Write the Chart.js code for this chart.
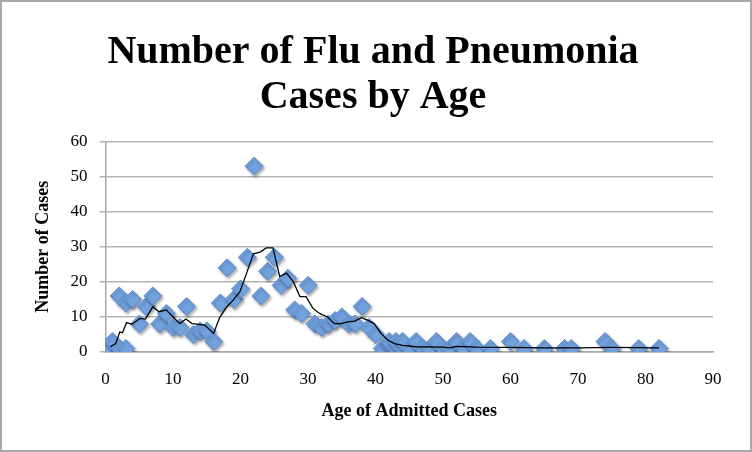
<!DOCTYPE html>
<html>
<head>
<meta charset="utf-8">
<script src="https://cdn.jsdelivr.net/npm/chart.js@4.4.1/dist/chart.umd.min.js"></script>
<style>
  html, body { margin: 0; padding: 0; background: #fff; }
  #wrap { width: 752px; height: 452px; }
</style>
</head>
<body>
<div id="wrap"><canvas id="c" width="752" height="452"></canvas></div>
<script>
// Werte: Alter und Anzahl Faelle
const ages = [0, 1, 2, 2, 3, 3, 4, 5, 6, 7, 8, 9, 10, 11, 12, 13, 14, 15, 16, 17, 18, 19, 20, 21, 22,
  23, 24, 25, 26, 27, 28, 29, 30, 31, 32, 33, 34, 35, 36, 37, 38, 39, 40,
  41, 42, 42, 43, 43, 44, 44, 45, 46, 47, 48, 49, 50, 51, 52, 53, 54, 55, 57, 60, 62, 65, 68, 69, 74, 75, 79, 82];
const cases = [1, 3, 16, 1, 14, 1, 15, 8, 13, 16, 8, 11, 7, 7, 13, 5, 6, 6, 3, 14, 24, 15, 18, 27, 53,
  16, 23, 27, 19, 21, 12, 11, 19, 8, 7, 8, 9, 10, 8, 8, 13, 7, 5,
  1, 2, 3, 1, 3, 1, 3, 1, 3, 1, 1, 3, 1, 1, 3, 1, 3, 1, 1, 3, 1, 1, 1, 1, 3, 1, 1, 1];

// gleitender Durchschnitt (Trendlinie), Stuetzpunkte aus dem Bild
const trendX = [0.7, 1.5, 2.1, 2.5, 3.1, 3.9, 5.1, 5.9, 7, 7.9, 9, 10, 11, 11.9, 12.8, 13.8, 14.7, 16,
  16.9, 17.8, 18.9, 19.9, 20.8, 21.9, 22.9, 23.8, 24.8, 25.8, 26.8, 27.8, 28.8, 29.7, 30.7, 31.7,
  32.9, 33.9, 34.9, 35.9, 36.9, 37.9, 38.8, 39.8, 40.8, 41.8, 42.8, 44, 46, 50, 51, 52, 55, 60, 65, 70, 75, 82];
const trendY = [1.5, 2.4, 5.7, 5.5, 8.4, 7.9, 9.6, 9.4, 12.9, 11.5, 12, 10, 8.1, 9.4, 8.1, 7.9, 7.7, 5.3,
  9.8, 12.5, 14.8, 17.2, 22, 28, 28.5, 29.7, 29.7, 21.5, 22.5, 20.1, 15.8, 15.8, 12.5, 11,
  10, 8.1, 8.1, 8.6, 8.8, 9.8, 9.1, 8.1, 5.3, 3.4, 2.4, 1.9, 1.5, 1.4, 1.2, 1.6, 1.4, 1.3, 1.2, 1.2, 1.3, 1.2];

const xTicks = [0, 10, 20, 30, 40, 50, 60, 70, 80, 90];
const yTicks = [0, 10, 20, 30, 40, 50, 60];

const serif = "'Liberation Serif', 'DejaVu Serif', serif";

const points = ages.map((a, i) => ({ x: a, y: cases[i] }));
const trend = trendX.map((a, i) => ({ x: a, y: trendY[i] }));

// Schatten fuer die Rauten, Rahmen um das Bild
const deco = {
  id: 'deco',
  beforeDatasetDraw(chart, args) {
    if (args.index !== 1) return;
    const ctx = chart.ctx;
    ctx.save();
    ctx.shadowColor = 'rgba(0,0,0,0.35)';
    ctx.shadowBlur = 3;
    ctx.shadowOffsetX = 1.5;
    ctx.shadowOffsetY = 2;
  },
  afterDatasetDraw(chart, args) {
    if (args.index !== 1) return;
    chart.ctx.restore();
  },
  afterDraw(chart) {
    const ctx = chart.ctx;
    ctx.save();
    ctx.strokeStyle = '#a8a8a8';
    ctx.lineWidth = 2;
    ctx.strokeRect(1, 1, chart.width - 2, chart.height - 2);
    ctx.restore();
  },
};

new Chart(document.getElementById('c'), {
  type: 'scatter',
  data: {
    datasets: [
      {
        type: 'line',
        label: 'Moving average',
        data: trend,
        borderColor: '#000',
        borderWidth: 1.3,
        pointRadius: 0,
        tension: 0,
        fill: false,
        order: 0,
      },
      {
        label: 'Cases',
        data: points,
        pointStyle: 'rectRot',
        pointRadius: 9,
        backgroundColor: '#72a2de',
        borderColor: '#5c8dd3',
        borderWidth: 1,
        order: 1,
      },
    ],
  },
  options: {
    responsive: false,
    animation: false,
    devicePixelRatio: 1,
    layout: { padding: { left: 33, right: 39, top: 30, bottom: 30 } },
    scales: {
      x: {
        type: 'linear',
        min: 0,
        max: 90,
        afterBuildTicks: (s) => { s.ticks = xTicks.map((v) => ({ value: v })); },
        grid: { display: false, drawOnChartArea: false, tickLength: 6, tickColor: '#a8a8a8' },
        border: { color: '#a8a8a8', width: 1.5 },
        ticks: { color: '#000', font: { family: serif, size: 17 }, padding: 11, maxRotation: 0 },
        title: {
          display: true,
          text: 'Age of Admitted Cases',
          color: '#000',
          font: { family: serif, size: 18, weight: 'bold' },
          padding: { top: 0, bottom: 0 },
        },
      },
      y: {
        min: 0,
        max: 60,
        afterBuildTicks: (s) => { s.ticks = yTicks.map((v) => ({ value: v })); },
        grid: { color: '#b4b4b4', lineWidth: 1.5, tickLength: 6 },
        border: { color: '#a8a8a8', width: 1.5 },
        ticks: { color: '#000', font: { family: serif, size: 17 }, padding: 12 },
        title: {
          display: true,
          text: 'Number of Cases',
          color: '#000',
          font: { family: serif, size: 18, weight: 'bold' },
          padding: { top: 0, bottom: 4 },
        },
      },
    },
    plugins: {
      legend: { display: false },
      tooltip: { enabled: false },
      title: {
        display: true,
        text: ['Number of Flu and Pneumonia', 'Cases by Age'],
        color: '#000',
        font: { family: serif, size: 40, weight: 'bold', lineHeight: 1.12 },
        padding: { top: 0, bottom: 22 },
      },
    },
  },
  plugins: [deco],
});
</script>
</body>
</html>
